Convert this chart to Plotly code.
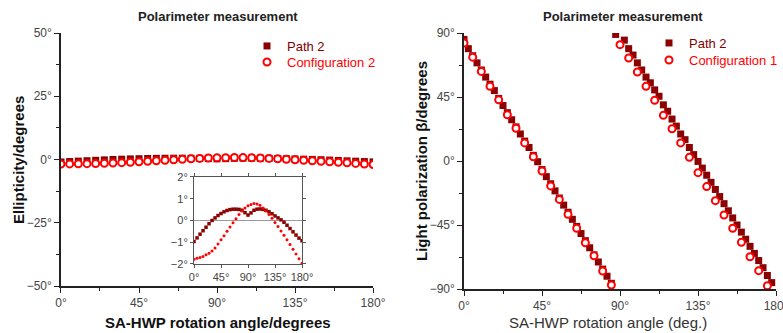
import plotly.graph_objects as go

# ---------------- data ----------------
# Left: ellipticity vs SA-HWP angle (5 deg steps)
ell_angle = [0, 5, 10, 15, 20, 25, 30, 35, 40, 45, 50, 55, 60, 65, 70, 75, 80, 85, 90,
             95, 100, 105, 110, 115, 120, 125, 130, 135, 140, 145, 150, 155, 160, 165, 170, 175, 180]
ell_path2 = [-0.97, -0.80, -0.63, -0.47, -0.31, -0.15, 0.00, 0.12, 0.23, 0.32, 0.40, 0.46, 0.50,
             0.52, 0.52, 0.51, 0.47, 0.36, 0.25, 0.35, 0.47, 0.52, 0.53, 0.51, 0.47, 0.40, 0.31,
             0.21, 0.12, 0.03, -0.08, -0.22, -0.37, -0.52, -0.67, -0.81, -0.93]
ell_conf2 = [-1.78, -1.74, -1.70, -1.65, -1.58, -1.50, -1.40, -1.26, -1.08, -0.88, -0.70, -0.50,
             -0.30, -0.10, 0.08, 0.27, 0.44, 0.58, 0.68, 0.74, 0.78, 0.76, 0.70, 0.58, 0.44, 0.28,
             0.10, -0.09, -0.28, -0.48, -0.68, -0.89, -1.10, -1.32, -1.54, -1.76, -1.97]

# Right: light polarization beta vs SA-HWP angle
pol_path2_angle = [0, 2.5, 5, 7.5, 10, 12.5, 15, 17.5, 20, 22.5, 25, 27.5, 30, 32.5, 35, 37.5, 40,
                   42.5, 45, 47.5, 50, 52.5, 55, 57.5, 60, 62.5, 65, 67.5, 70, 72.5, 75, 77.5, 80,
                   82.5, 85, 87.5, 92.5, 95, 97.5, 100, 102.5, 105, 107.5, 110, 112.5, 115, 117.5,
                   120, 122.5, 125, 127.5, 130, 132.5, 135, 137.5, 140, 142.5, 145, 147.5, 150,
                   152.5, 155, 157.5, 160, 162.5, 165, 167.5, 170, 172.5, 175, 177.5]
pol_path2 = [85.5, 79, 74, 69, 64, 59, 54, 49.5, 44, 39, 34, 29, 24, 19, 14, 9.5, 4, -0.5, -6, -11,
             -16, -21, -26, -31, -36, -41, -46, -51, -56, -61, -66, -71, -76, -81, -86, 89,
             85, 79, 74.5, 69, 64, 59, 55, 50, 45.5, 39.5, 35, 29.5, 24.5, 19, 15, 9.5, 4.5, -0.3,
             -5, -10, -15, -20, -25, -30, -35, -40, -45, -50, -55, -60, -65, -70, -75, -80.5, -85.5]
pol_conf1_angle = [0, 5, 10, 15, 20, 25, 30, 35, 40, 45, 50, 55, 60, 65, 70, 75, 80, 85,
                   90, 95, 100, 105, 110, 115, 120, 125, 130, 135, 140, 145, 150, 155, 160, 165, 170, 175]
pol_conf1 = [83, 73, 63, 52.5, 43, 32.5, 23, 12.7, 3, -7, -17.5, -27, -37.5, -47.3, -57.5, -66.7, -77.3, -87.2,
             81.8, 72.4, 62.6, 52.5, 42.7, 32.1, 22.7, 12.7, 2.6, -8.2, -18, -27.9, -38, -47.3, -57.2, -67.3, -77.1, -87.7]

# tick labels
x_tickvals = [0, 45, 90, 135, 180]
x_ticktext = ["0°", "45°", "90°", "135°", "180°"]
ell_tickvals = [-50, -25, 0, 25, 50]
ell_ticktext = ["\u221250°", "\u221225°", "0°", "25°", "50°"]
inset_tickvals = [-2, -1, 0, 1, 2]
inset_ticktext = ["\u22122°", "\u22121°", "0°", "1°", "2°"]
pol_tickvals = [-90, -45, 0, 45, 90]
pol_ticktext = ["\u221290°", "\u221245°", "0°", "45°", "90°"]

DARK = "#8B0000"
RED = "#FF0000"
FONT = "Liberation Sans, Arial, sans-serif"

fig = go.Figure()

# left main
fig.add_trace(go.Scatter(x=ell_angle, y=ell_path2, mode="markers", xaxis="x", yaxis="y",
                         name="<span style='color:#800000'>Path 2</span>", legend="legend",
                         marker=dict(symbol="square", size=7, color=DARK)))
fig.add_trace(go.Scatter(x=ell_angle, y=ell_conf2, mode="markers", xaxis="x", yaxis="y",
                         name="<span style='color:#FF0000'>Configuration 2</span>", legend="legend2",
                         marker=dict(symbol="circle", size=7, color="white", line=dict(color=RED, width=2))))
# inset
fig.add_trace(go.Scatter(x=ell_angle, y=ell_path2, mode="markers", xaxis="x3", yaxis="y3", showlegend=False,
                         marker=dict(symbol="square", size=3.5, color=DARK)))
fig.add_trace(go.Scatter(x=ell_angle, y=ell_conf2, mode="markers", xaxis="x3", yaxis="y3", showlegend=False,
                         marker=dict(symbol="circle", size=3, color=RED)))
# right main
fig.add_trace(go.Scatter(x=pol_path2_angle, y=pol_path2, mode="markers", xaxis="x2", yaxis="y2",
                         name="<span style='color:#800000'>Path 2</span>", legend="legend3",
                         marker=dict(symbol="square", size=7, color=DARK)))
fig.add_trace(go.Scatter(x=pol_conf1_angle, y=pol_conf1, mode="markers", xaxis="x2", yaxis="y2",
                         name="<span style='color:#FF0000'>Configuration 1</span>", legend="legend4",
                         marker=dict(symbol="circle", size=7, color="white", line=dict(color=RED, width=2))))

tickfont = dict(family=FONT, size=12, color="#444")

def main_x(domain, anchor):
    return dict(domain=domain, anchor=anchor, range=[0, 180], tickvals=x_tickvals, ticktext=x_ticktext,
                ticks="outside", ticklen=5, tickwidth=1, tickcolor="#222", showline=True, linecolor="#222",
                linewidth=1.5, showgrid=False, zeroline=False, tickfont=tickfont, automargin=False,
                ticklabeloverflow="allow",
                minor=dict(dtick=22.5, tick0=0, ticks="outside", ticklen=3, tickcolor="#222"))

def main_y(domain, anchor, rng, tv, tt, minor):
    return dict(domain=domain, anchor=anchor, range=rng, tickvals=tv, ticktext=tt,
                ticks="outside", ticklen=5, tickwidth=1, tickcolor="#222", showline=True, linecolor="#222",
                linewidth=1.5, showgrid=False, zeroline=False, tickfont=tickfont, automargin=False,
                minor=dict(dtick=minor, tick0=0, ticks="outside", ticklen=3, tickcolor="#222"))

def mirror_axis(over, anchor, side, rng, tv, minor):
    return dict(overlaying=over, anchor=anchor, side=side, range=rng, tickvals=tv,
                showticklabels=False, ticks="inside", ticklen=5, tickcolor="#222", showline=True,
                linecolor="#222", linewidth=1.5, showgrid=False, zeroline=False, automargin=False,
                minor=dict(dtick=minor, tick0=0, ticks="inside", ticklen=3, tickcolor="#222"))

def legend_at(px, py):
    return dict(x=px / 783, y=1 - py / 333, xanchor="left", yanchor="top", bgcolor="rgba(0,0,0,0)",
                font=dict(family=FONT, size=13), itemwidth=30, borderwidth=0)

LX = [0.0779, 0.4764]
LY = [0.1411, 0.9009]
RX = [0.5926, 0.9911]
RY = [0.1321, 0.9009]

fig.update_layout(
    template="none",
    width=783, height=333, margin=dict(l=0, r=0, t=0, b=0, pad=0, autoexpand=False),
    paper_bgcolor="white", plot_bgcolor="white",
    font=dict(family=FONT, size=12, color="#222"),
    xaxis=main_x(LX, "y"),
    yaxis=main_y(LY, "x", [-50, 50], ell_tickvals, ell_ticktext, 12.5),
    xaxis2=main_x(RX, "y2"),
    yaxis2=main_y(RY, "x2", [-90, 90], pol_tickvals, pol_ticktext, 22.5),
    xaxis4=mirror_axis("x", "y", "top", [0, 180], x_tickvals, 22.5),
    yaxis4=mirror_axis("y", "x", "right", [-50, 50], ell_tickvals, 12.5),
    xaxis5=mirror_axis("x2", "y2", "top", [0, 180], x_tickvals, 22.5),
    yaxis5=mirror_axis("y2", "x2", "right", [-90, 90], pol_tickvals, 22.5),
    # inset
    xaxis3=dict(domain=[0.2478, 0.3857], anchor="y3", range=[0, 180], tickvals=x_tickvals,
                ticktext=x_ticktext, ticks="outside", ticklen=3, tickcolor="#555", showline=True,
                linecolor="#555", linewidth=1, mirror="ticks", showgrid=False, zeroline=False,
                automargin=False, tickfont=dict(family=FONT, size=11, color="#444")),
    yaxis3=dict(domain=[0.2072, 0.4685], anchor="x3", range=[-2, 2], tickvals=inset_tickvals,
                ticktext=inset_ticktext, ticks="outside", ticklen=3, tickcolor="#555", showline=True,
                linecolor="#555", linewidth=1, mirror="ticks", showgrid=False, zeroline=True,
                zerolinecolor="#999", zerolinewidth=1, automargin=False,
                tickfont=dict(family=FONT, size=11, color="#444")),
    legend=legend_at(247, 31),
    legend2=legend_at(247, 47),
    legend3=legend_at(649, 28),
    legend4=legend_at(649, 45),
    showlegend=True,
)

ann = [
    dict(text="<b>Polarimeter measurement</b>", x=218 / 783, y=1 - 17 / 333, font=dict(size=13, color="#222")),
    dict(text="<b>Polarimeter measurement</b>", x=623 / 783, y=1 - 17 / 333, font=dict(size=13, color="#222")),
    dict(text="<b>SA-HWP rotation angle/degrees</b>", x=218 / 783, y=1 - 322 / 333, font=dict(size=15, color="#111")),
    dict(text="SA-HWP rotation angle (deg.)", x=608 / 783, y=1 - 322 / 333, font=dict(size=15, color="#333")),
    dict(text="<b>Ellipticity/degrees</b>", x=18 / 783, y=1 - 160 / 333, textangle=-90, font=dict(size=15, color="#111")),
    dict(text="<b>Light polarization β/degrees</b>", x=421 / 783, y=1 - 161 / 333, textangle=-90, font=dict(size=15, color="#111")),
]
for a in ann:
    a.update(xref="paper", yref="paper", showarrow=False, xanchor="center", yanchor="middle")
    a["font"]["family"] = FONT
fig.update_layout(annotations=ann)

fig.write_html("out.html", config={"displayModeBar": False},
               post_script="document.body.style.margin='0';document.body.style.overflow='hidden';")
